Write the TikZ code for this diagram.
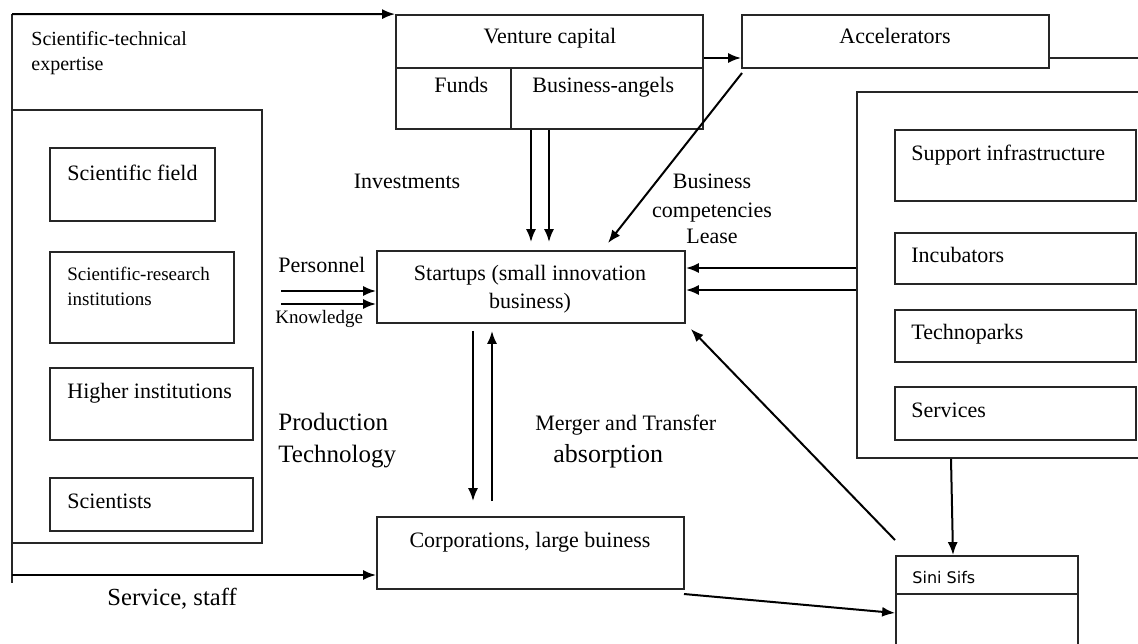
\documentclass[tikz,border=0pt]{standalone}
\usepackage{fontspec}
\setmainfont{Liberation Serif}
\newfontfamily\sinifont{DejaVu Sans}
\usetikzlibrary{arrows.meta}
\newcommand\boxat[5]{\node[boxs, minimum width={(#4-#2)*0.5pt}, minimum height={(#5-#3)*0.5pt}] (#1) at ({(#2+#4)/2},{(#3+#5)/2}) {};}
\begin{document}
\begin{tikzpicture}[x=0.5pt,y=-0.5pt,
  boxs/.style={draw=black!85, rectangle, inner sep=0pt, line width=0.9pt},
  ln/.style={draw=black!85, line width=0.9pt},
  txt/.style={inner sep=0pt, font=\fontsize{11}{13}\selectfont},
  arr/.style={draw=black, line width=1pt, -{Latex[length=6.5pt,width=5pt]}}]
\useasboundingbox (0,0) rectangle (1138,643);

% ---------- boxes ----------
\boxat{vc}{396}{15}{703}{129}
\boxat{acc}{742}{15}{1049}{68}
\boxat{lb}{12}{110}{262}{543}
\boxat{sf}{50}{148}{215}{221}
\boxat{sri}{50}{252}{234}{343}
\boxat{hi}{50}{368}{253}{440}
\boxat{sci}{50}{478}{253}{531}
\boxat{rb}{857}{92}{1170}{458}
\boxat{sup}{895}{130}{1136}{201}
\boxat{inc}{895}{233}{1136}{284}
\boxat{tec}{895}{310}{1136}{362}
\boxat{ser}{895}{387}{1136}{440}
\boxat{st}{377}{251}{685}{323}
\boxat{corp}{377}{517}{684}{589}
\boxat{sini}{896}{556}{1078}{670}

% helper coordinates
\coordinate (y58) at (0,58);
\coordinate (y68) at (0,68);
\coordinate (x511) at (511,0);
\coordinate (i1) at (531,0);
\coordinate (i2) at (549,0);
\coordinate (y268) at (0,268);
\coordinate (y290) at (0,290);
\coordinate (d1) at (473,0);
\coordinate (u1) at (492,0);
\coordinate (y594) at (0,594);
\coordinate (y613) at (0,613);
\coordinate (r1) at (951,0);
\coordinate (r2) at (953,0);

% dividers
\draw[ln] (vc.west |- y68) -- (vc.east |- y68);
\draw[ln] (x511 |- y68) -- (vc.south -| x511);
\draw[ln] (sini.west |- y594) -- (sini.east |- y594);

% ---------- texts ----------
\node[txt, anchor=base] (tvc) at (550,43) {Venture capital};
\node[txt, anchor=base west] (tfu) at (434,92) {Funds};
\node[txt, anchor=base west] (tba) at (532,92) {Business-angels};
\node[txt, anchor=base] (tacc) at (895,43) {Accelerators};
\node[txt, anchor=base west, font=\fontsize{10}{12}\selectfont] (tste1) at (31,45) {Scientific-technical};
\node[txt, anchor=base west, font=\fontsize{10}{12}\selectfont] (tste2) at (31,70) {expertise};
\node[txt, anchor=base west] (tsf) at (67,180) {Scientific field};
\node[txt, anchor=base west, font=\fontsize{9.5}{11}\selectfont] (tsri1) at (67,280) {Scientific-research};
\node[txt, anchor=base west, font=\fontsize{9.5}{11}\selectfont] (tsri2) at (67,305) {institutions};
\node[txt, anchor=base west] (thi) at (67,398) {Higher institutions};
\node[txt, anchor=base west] (tsci) at (67,508) {Scientists};
\node[txt, anchor=base west] (tsup) at (911,160) {Support infrastructure};
\node[txt, anchor=base west] (tinc) at (911,262) {Incubators};
\node[txt, anchor=base west] (ttec) at (911,339) {Technoparks};
\node[txt, anchor=base west] (tser) at (911,417) {Services};
\node[txt, anchor=base] (tst1) at (530,280) {Startups (small innovation};
\node[txt, anchor=base] (tst2) at (530,308) {business)};
\node[txt, anchor=base] (tcorp) at (530,547) {Corporations, large buiness};
\node[txt, anchor=base west] (tper) at (278,272) {Personnel};
\node[txt, anchor=base west, font=\fontsize{9.5}{11}\selectfont] (tkno) at (275,323) {Knowledge};
\node[txt, anchor=base] (tinv) at (407,188) {Investments};
\node[txt, anchor=base] (tbc1) at (712,188) {Business};
\node[txt, anchor=base] (tbc2) at (712,217) {competencies};
\node[txt, anchor=base] (tbc3) at (712,243) {Lease};
\node[txt, anchor=base west, font=\fontsize{12.5}{15}\selectfont] (tpr1) at (278,430) {Production};
\node[txt, anchor=base west, font=\fontsize{12.5}{15}\selectfont] (tpr2) at (278,462) {Technology};
\node[txt, anchor=base west] (tmg1) at (535,430) {Merger and Transfer};
\node[txt, anchor=base west, font=\fontsize{13}{15}\selectfont] (tmg2) at (553,462) {absorption};
\node[inner sep=0pt, anchor=base west, font=\sinifont\fontsize{8}{10}\selectfont] (tsini) at (912,583) {Sini Sifs};
\node[txt, anchor=base west, font=\fontsize{12.3}{15}\selectfont] (tsrv) at (107,605) {Service, staff};

% ---------- connectors ----------
\coordinate (tl) at (12,14);
\coordinate (bl) at (12,583);
\coordinate (sv) at (12,575);
\coordinate (accend) at (1138,58);
\coordinate (a1) at (742,73);
\coordinate (a2) at (608,243);
\coordinate (p1) at (281,291);
\coordinate (p2) at (281,304);
\coordinate (s1) at (895,540);
\coordinate (c1) at (684,594);

\draw[ln] (tl) -- (bl);
\draw[arr] (tl) -- (vc.north west);
\draw[arr] (sv) -- (corp.west |- sv);
\draw[arr] (vc.east |- y58) -- (acc.west |- y58);
\draw[ln] (acc.east |- y58) -- (accend);
\draw[arr, shorten >=4pt] (vc.south -| i1) -- (st.north -| i1);
\draw[arr, shorten >=4pt] (vc.south -| i2) -- (st.north -| i2);
\draw[arr] (a1) -- (a2);
\draw[arr] (rb.west |- y268) -- (st.east |- y268);
\draw[arr] (rb.west |- y290) -- (st.east |- y290);
\draw[arr] (p1) -- (st.west |- p1);
\draw[arr] (p2) -- (st.west |- p2);
\draw[arr, shorten <=3.5pt, shorten >=7.5pt] (st.south -| d1) -- (corp.north -| d1);
\draw[arr, shorten <=7.5pt, shorten >=3.5pt] (corp.north -| u1) -- (st.south -| u1);
\draw[arr, shorten >=3.5pt] (s1) -- (st.south east);
\draw[arr] (c1) -- (sini.west |- y613);
\draw[arr] (rb.south -| r1) -- (sini.north -| r2);
\end{tikzpicture}
\end{document}
